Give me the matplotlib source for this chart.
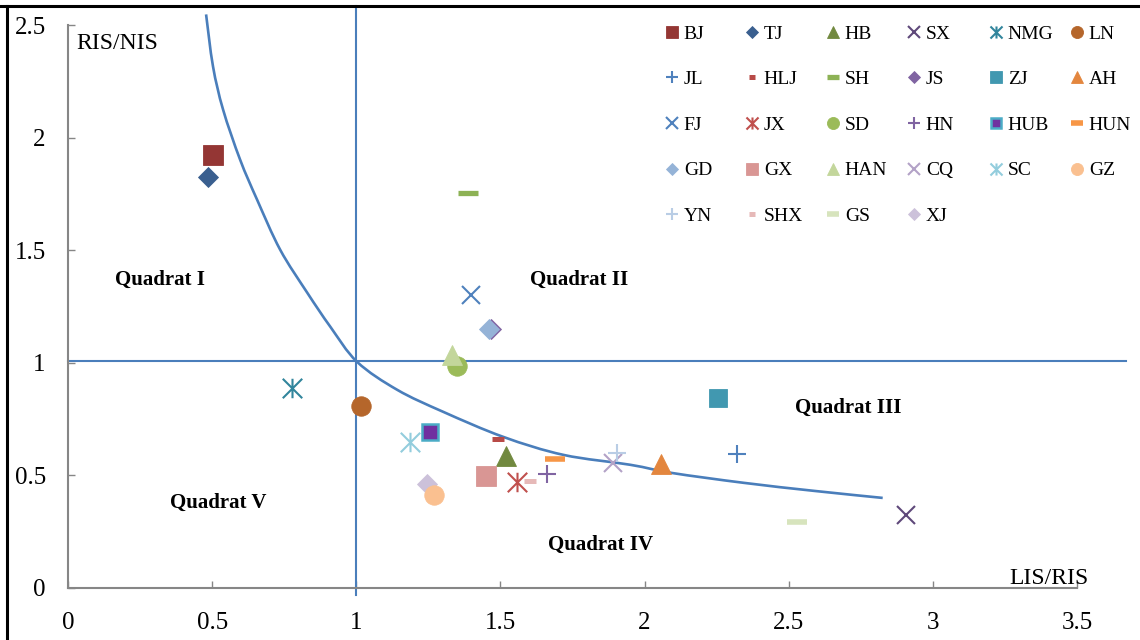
import matplotlib
matplotlib.use('Agg')
import matplotlib.pyplot as plt
from matplotlib.path import Path
from matplotlib.patches import PathPatch
from matplotlib.lines import Line2D

plt.rcParams['font.family'] = ['Liberation Serif', 'DejaVu Serif']

# ---------------- data ----------------
provinces = ['BJ', 'TJ', 'HB', 'SX', 'NMG', 'LN',
             'JL', 'HLJ', 'SH', 'JS', 'ZJ', 'AH',
             'FJ', 'JX', 'SD', 'HN', 'HUB', 'HUN',
             'GD', 'GX', 'HAN', 'CQ', 'SC', 'GZ',
             'YN', 'SHX', 'GS', 'XJ']
lis_ris = [0.503, 0.486, 1.521, 2.906, 0.778, 1.017,
           2.319, 1.493, 1.389, 1.468, 2.253, 2.056,
           1.399, 1.559, 1.351, 1.660, 1.257, 1.688,
           1.462, 1.451, 1.333, 1.892, 1.188, 1.271,
           1.906, 1.601, 2.528, 1.247]
ris_nis = [1.924, 1.827, 0.585, 0.324, 0.889, 0.809,
           0.596, 0.662, 1.756, 1.148, 0.844, 0.551,
           1.302, 0.471, 0.987, 0.507, 0.693, 0.573,
           1.151, 0.498, 1.036, 0.556, 0.649, 0.413,
           0.600, 0.476, 0.293, 0.462]

curve_x = [0.479, 0.503, 0.538, 0.597, 0.656, 0.736, 0.830, 0.910, 1.003,
           1.142, 1.302, 1.510, 1.719, 1.951, 2.094, 2.344, 2.590, 2.826]
curve_y = [2.547, 2.316, 2.124, 1.902, 1.724, 1.502, 1.311, 1.160, 1.004,
           0.880, 0.782, 0.671, 0.591, 0.547, 0.511, 0.467, 0.431, 0.400]

vline_x = 1.0
hline_y = 1.01

x_ticks = [0, 0.5, 1, 1.5, 2, 2.5, 3, 3.5]
x_tick_labels = ['0', '0.5', '1', '1.5', '2', '2.5', '3', '3.5']
y_ticks = [0, 0.5, 1, 1.5, 2, 2.5]
y_tick_labels = ['0', '0.5', '1', '1.5', '2', '2.5']

quadrant_labels = ['Quadrat I', 'Quadrat II', 'Quadrat III', 'Quadrat IV', 'Quadrat V']
quadrant_x = [0.319, 1.774, 2.708, 1.847, 0.521]
quadrant_y = [1.369, 1.369, 0.800, 0.191, 0.378]

# ---------------- styles ----------------
STAR = Path([(-1, -1), (1, 1), (-1, 1), (1, -1), (0, -1), (0, 1)],
            [Path.MOVETO, Path.LINETO, Path.MOVETO, Path.LINETO, Path.MOVETO, Path.LINETO])

def filled(marker, color, ms, mec=None, mew=0.6):
    return dict(marker=marker, markersize=ms, markerfacecolor=color,
                markeredgecolor=mec if mec else color, markeredgewidth=mew)

def stroke(marker, color, ms, mew=1.5):
    return dict(marker=marker, markersize=ms, markerfacecolor='none',
                markeredgecolor=color, markeredgewidth=mew)

styles = {
    'BJ':  filled('s', '#943634', 14.0),
    'TJ':  filled('D', '#3A5F8F', 10.0),
    'HB':  filled('^', '#71893F', 14.0),
    'SX':  stroke('x', '#5F497A', 13.5),
    'NMG': stroke(STAR, '#31859C', 14.0),
    'LN':  filled('o', '#B5662B', 14.0),
    'JL':  stroke('+', '#4F81BD', 13.5),
    'HLJ': stroke('_', '#B84A47', 8.0, 3.6),
    'SH':  stroke('_', '#8DB255', 14.0, 3.8),
    'JS':  filled('D', '#8064A2', 10.4),
    'ZJ':  filled('s', '#4198B0', 13.5),
    'AH':  filled('^', '#E3863E', 14.0),
    'FJ':  stroke('x', '#4F81BD', 13.5),
    'JX':  stroke(STAR, '#C0504D', 14.0),
    'SD':  filled('o', '#9BBB59', 14.0),
    'HN':  stroke('+', '#8064A2', 13.5),
    'HUB': filled('s', '#7030A0', 11.5, mec='#4BACC6', mew=1.8),
    'HUN': stroke('_', '#F79646', 14.0, 4.0),
    'GD':  filled('D', '#95B3D7', 10.4),
    'GX':  filled('s', '#D99694', 14.0),
    'HAN': filled('^', '#C3D69B', 14.0),
    'CQ':  stroke('x', '#B3A2C7', 13.5),
    'SC':  stroke(STAR, '#93CDDD', 14.0),
    'GZ':  filled('o', '#FAC090', 14.0),
    'YN':  stroke('+', '#B9CDE5', 13.5),
    'SHX': stroke('_', '#E6B9B8', 8.0, 3.6),
    'GS':  stroke('_', '#D7E4BD', 14.0, 4.0),
    'XJ':  filled('D', '#CCC1DA', 9.8),
}

LINE_BLUE = '#4A7EBB'
AXIS_GRAY = '#868686'

# ---------------- figure ----------------
W, H = 1140, 640
fig = plt.figure(figsize=(W / 100, H / 100), dpi=100)
fig.patch.set_facecolor('white')

def fx(px):
    return px / W

def fy(py):
    return 1 - py / H

ax = fig.add_axes([fx(68), fy(588), fx(1077) - fx(68), fy(25) - fy(588)])
ax.set_xlim(0, 3.5)
ax.set_ylim(0, 2.5)
ax.set_facecolor('none')

for s in ['top', 'right']:
    ax.spines[s].set_visible(False)
for s in ['left', 'bottom']:
    ax.spines[s].set_color(AXIS_GRAY)
    ax.spines[s].set_linewidth(1.5)

ax.set_xticks(x_ticks)
ax.set_xticklabels(x_tick_labels)
ax.set_yticks(y_ticks)
ax.set_yticklabels(y_tick_labels)
ax.tick_params(axis='both', direction='in', length=5, width=1, color=AXIS_GRAY,
               labelsize=18, labelcolor='black')
ax.tick_params(axis='x', pad=17)
ax.tick_params(axis='y', pad=16)

# reference lines
ax.plot([vline_x, vline_x], [-0.03, 2.585], color=LINE_BLUE, lw=1.5, clip_on=False, zorder=2)
ax.plot([0, 3.67], [hline_y, hline_y], color=LINE_BLUE, lw=1.5, clip_on=False, zorder=2)

# smoothed curve (Catmull-Rom rendered as cubic Bezier through the read points)
pts = list(zip(curve_x, curve_y))
verts = [pts[0]]
codes = [Path.MOVETO]
n = len(pts)
for i in range(n - 1):
    p0 = pts[i - 1] if i > 0 else pts[i]
    p1 = pts[i]
    p2 = pts[i + 1]
    p3 = pts[i + 2] if i + 2 < n else pts[i + 1]
    c1 = (p1[0] + (p2[0] - p0[0]) / 6, p1[1] + (p2[1] - p0[1]) / 6)
    c2 = (p2[0] - (p3[0] - p1[0]) / 6, p2[1] - (p3[1] - p1[1]) / 6)
    verts += [c1, c2, p2]
    codes += [Path.CURVE4] * 3
ax.add_patch(PathPatch(Path(verts, codes), facecolor='none', edgecolor=LINE_BLUE,
                       lw=1.9, clip_on=False, zorder=2))

# points
handles = {}
for i, name in enumerate(provinces):
    z = 3 + i * 0.01
    if name == 'GZ':
        z = 3.5
    h, = ax.plot([lis_ris[i]], [ris_nis[i]], linestyle='none', label=name,
                 clip_on=False, zorder=z, **styles[name])
    handles[name] = h

# quadrant labels
for lab, qx, qy in zip(quadrant_labels, quadrant_x, quadrant_y):
    ax.text(qx, qy, lab, fontsize=15, fontweight='bold', ha='center', va='center')

# axis titles
ax.text(0.028, 2.42, 'RIS/NIS', fontsize=17, ha='left', va='center')
ax.text(3.54, 0.044, 'LIS/RIS', fontsize=17, ha='right', va='center', clip_on=False)

# legend: 6 columns, row-major order
col_left_px = [664, 744, 825, 906, 988, 1069]
for c in range(6):
    names = provinces[c::6]
    fig.legend([handles[n] for n in names], names,
               loc='upper left', bbox_to_anchor=(fx(col_left_px[c]), fy(25)),
               bbox_transform=fig.transFigure, frameon=False, fontsize=14,
               handlelength=0.8, handletextpad=0.22, borderpad=0, borderaxespad=0,
               labelspacing=1.44, markerscale=0.62, numpoints=1)

# figure frame (top and left)
fig.add_artist(Line2D([0, 1], [fy(6), fy(6)], transform=fig.transFigure, color='black', lw=2.2))
fig.add_artist(Line2D([fx(7), fx(7)], [0, fy(6)], transform=fig.transFigure, color='black', lw=2.2))

fig.savefig('out.png', dpi=100, facecolor='white')
